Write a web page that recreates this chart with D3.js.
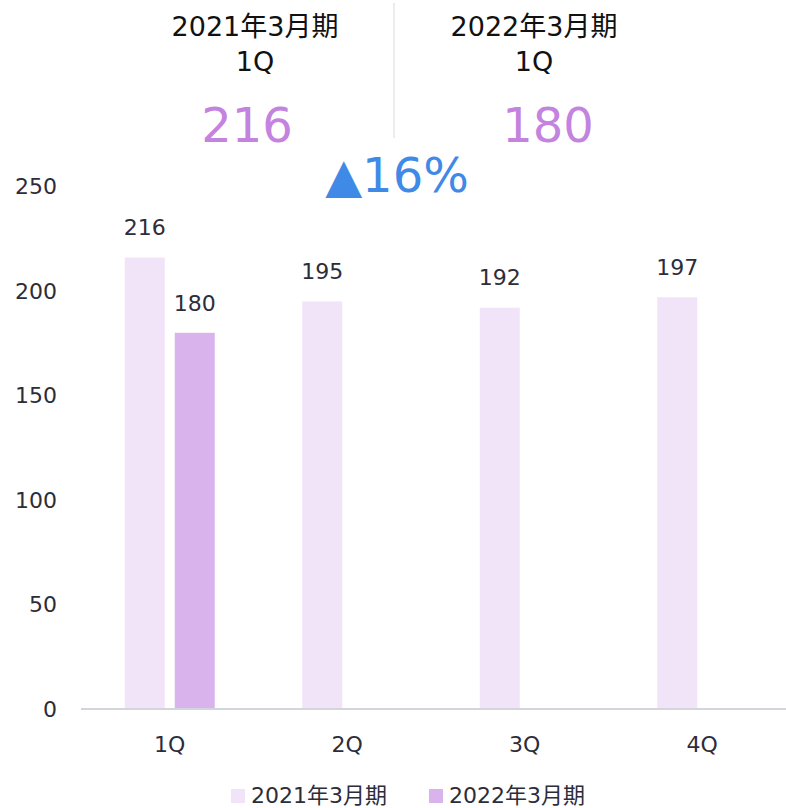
<!DOCTYPE html>
<html>
<head>
<meta charset="utf-8">
<script src="https://cdn.jsdelivr.net/npm/d3@7"></script>
<style>
body{margin:0;background:#fff;}
text{font-family:"DejaVu Sans","Noto Sans CJK JP",sans-serif;}
</style>
</head>
<body>
<div id="chart"></div>
<script>
var categories = ["1Q", "2Q", "3Q", "4Q"];
var seriesNames = ["2021年3月期", "2022年3月期"];
var values2021 = [216, 195, 192, 197];
var values2022 = [180, null, null, null];
var yTicks = [0, 50, 100, 150, 200, 250];
var colors = ["#f1e4f8", "#d9b3ec"];

var headerLabels = ["2021年3月期", "2022年3月期"];
var headerQuarter = ["1Q", "1Q"];
var headerValues = [216, 180];
var changeText = "▲16%";

var W = 786, H = 808;

var svg = d3.select("#chart").append("svg")
	.attr("width", W)
	.attr("height", H);

var x0 = d3.scaleBand().domain(categories).range([81, 791]);
var x1 = d3.scaleBand().domain(seriesNames).range([0, 90]).paddingInner(0.2);
var y = d3.scaleLinear().domain([0, 250]).range([709, 186.5]);

// y labels (no axis line)
svg.selectAll(".ytick").data(yTicks).enter().append("text")
	.attr("x", 57)
	.attr("y", function(d){ return y(d); })
	.attr("dy", "0.35em")
	.attr("text-anchor", "end")
	.attr("font-size", 22)
	.attr("fill", "#2d2d3a")
	.text(function(d){ return d; });

var rows = categories.map(function(c, i){
	return {cat: c, vals: [values2021[i], values2022[i]]};
});

var groups = svg.selectAll(".grp").data(rows).enter().append("g")
	.attr("transform", function(d){
		return "translate(" + (x0(d.cat) + x0.bandwidth() / 2 - 45) + ",0)";
	});

groups.each(function(d){
	var g = d3.select(this);
	d.vals.forEach(function(v, k){
		if(v == null) return;
		g.append("rect")
			.attr("x", x1(seriesNames[k]))
			.attr("y", y(v))
			.attr("width", x1.bandwidth())
			.attr("height", y(0) - y(v))
			.attr("fill", colors[k]);
		g.append("text")
			.attr("x", x1(seriesNames[k]) + x1.bandwidth() / 2)
			.attr("y", y(v) - 30)
			.attr("dy", "0.35em")
			.attr("text-anchor", "middle")
			.attr("font-size", 22)
			.attr("fill", "#2d2d3a")
			.text(v);
	});
});

// baseline
svg.append("line")
	.attr("x1", 81).attr("x2", 786)
	.attr("y1", y(0)).attr("y2", y(0))
	.attr("stroke", "#d4d4dc")
	.attr("stroke-width", 2);

// x axis labels
svg.selectAll(".xlab").data(categories).enter().append("text")
	.attr("x", function(d){ return x0(d) + x0.bandwidth() / 2; })
	.attr("y", 744)
	.attr("dy", "0.35em")
	.attr("text-anchor", "middle")
	.attr("font-size", 22)
	.attr("fill", "#2d2d3a")
	.text(function(d){ return d; });

// legend
var legX = [231, 429];
seriesNames.forEach(function(s, k){
	svg.append("rect")
		.attr("x", legX[k]).attr("y", 789)
		.attr("width", 14).attr("height", 14)
		.attr("fill", colors[k]);
	svg.append("text")
		.attr("x", legX[k] + 20)
		.attr("y", 795)
		.attr("dy", "0.35em")
		.attr("font-size", 22)
		.attr("fill", "#2d2d3a")
		.text(s);
});

// header comparison
var headX = [255, 534];
var numX = [247, 548];
headerLabels.forEach(function(t, k){
	svg.append("text")
		.attr("x", headX[k]).attr("y", 27)
		.attr("dy", "0.35em")
		.attr("text-anchor", "middle")
		.attr("font-size", 27)
		.attr("fill", "#111")
		.text(t);
	svg.append("text")
		.attr("x", headX[k]).attr("y", 62)
		.attr("dy", "0.35em")
		.attr("text-anchor", "middle")
		.attr("font-size", 27)
		.attr("fill", "#111")
		.text(headerQuarter[k]);
	svg.append("text")
		.attr("x", numX[k]).attr("y", 125)
		.attr("dy", "0.35em")
		.attr("text-anchor", "middle")
		.attr("font-size", 48)
		.attr("fill", "#c383df")
		.text(headerValues[k]);
});

svg.append("line")
	.attr("x1", 394).attr("x2", 394)
	.attr("y1", 3).attr("y2", 138)
	.attr("stroke", "#e3e7e8")
	.attr("stroke-width", 1.5);

svg.append("text")
	.attr("x", 397).attr("y", 175)
	.attr("dy", "0.35em")
	.attr("text-anchor", "middle")
	.attr("font-size", 48)
	.attr("fill", "#3f8ae6")
	.text(changeText);
</script>
</body>
</html>
